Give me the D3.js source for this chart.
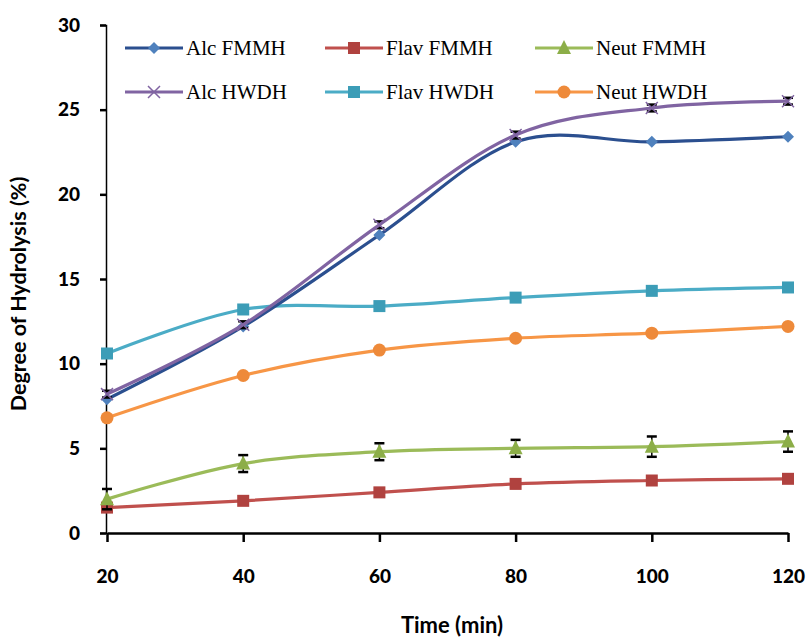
<!DOCTYPE html>
<html><head><meta charset="utf-8">
<script src="https://cdn.jsdelivr.net/npm/d3@7"></script>
<style>body{margin:0;background:#fff}svg{display:block}</style>
</head><body>
<svg id="c" width="811" height="640"></svg>
<script>
const times = [20, 40, 60, 80, 100, 120];
const xTicks = [20, 40, 60, 80, 100, 120];
const yTicks = [0, 5, 10, 15, 20, 25, 30];
const seriesNames = ["Alc FMMH", "Flav FMMH", "Neut FMMH", "Alc HWDH", "Flav HWDH", "Neut HWDH"];
const alcFMMH = [7.9, 12.2, 17.6, 23.1, 23.1, 23.4];
const flavFMMH = [1.5, 1.9, 2.4, 2.9, 3.1, 3.2];
const neutFMMH = [2.0, 4.1, 4.8, 5.0, 5.1, 5.4];
const alcHWDH = [8.2, 12.3, 18.2, 23.5, 25.1, 25.5];
const flavHWDH = [10.6, 13.2, 13.4, 13.9, 14.3, 14.5];
const neutHWDH = [6.8, 9.3, 10.8, 11.5, 11.8, 12.2];
const errFlavFMMH = [0.15, 0.15, 0.2, 0.2, 0.2, 0.2];
const errNeutFMMH = [0.6, 0.5, 0.5, 0.5, 0.6, 0.6];
const errAlcHWDH = [0.2, 0.2, 0.2, 0.2, 0.2, 0.2];

const series = [
  {name: seriesNames[0], values: alcFMMH, line: "#2B4F8F", fill: "#4F81BD", shape: "diamond", err: null},
  {name: seriesNames[1], values: flavFMMH, line: "#C0504D", fill: "#B0423F", shape: "square", err: errFlavFMMH},
  {name: seriesNames[2], values: neutFMMH, line: "#9BBB59", fill: "#8CAE48", shape: "triangle", err: errNeutFMMH},
  {name: seriesNames[3], values: alcHWDH, line: "#8064A2", fill: "#8064A2", shape: "x", err: errAlcHWDH},
  {name: seriesNames[4], values: flavHWDH, line: "#4BACC6", fill: "#3C9DB7", shape: "square", err: null},
  {name: seriesNames[5], values: neutHWDH, line: "#F79646", fill: "#EE8A3A", shape: "circle", err: null}
];

const svg = d3.select("#c");
const x = d3.scaleLinear().domain([20, 120]).range([107, 788]);
const y = d3.scaleLinear().domain([0, 30]).range([533, 25]);
const sansFont = "Lato, 'Open Sans', sans-serif";

// axes
const yAxis = svg.append("g").attr("transform", "translate(106,0)")
  .call(d3.axisLeft(y).tickValues(yTicks).tickSize(6).tickPadding(20).tickFormat(d3.format("d")));
yAxis.select(".domain").attr("stroke", "#000").attr("stroke-width", 1.5);
yAxis.selectAll(".tick line").attr("stroke", "#000").attr("stroke-width", 2.5);
yAxis.selectAll("text").attr("font-family", sansFont).attr("font-weight", 900)
  .attr("font-size", 19).attr("fill", "#000");

const xAxis = svg.append("g").attr("transform", "translate(0,533)")
  .call(d3.axisBottom(x).tickValues(xTicks).tickSize(9).tickSizeOuter(0).tickPadding(28).tickFormat(d3.format("d")));
xAxis.select(".domain").attr("stroke", "#000").attr("stroke-width", 2.5);
xAxis.selectAll(".tick line").attr("stroke", "#000").attr("stroke-width", 2.5);
xAxis.selectAll("text").attr("font-family", sansFont).attr("font-weight", 900)
  .attr("font-size", 19).attr("fill", "#000");

// titles
svg.append("text").attr("transform", "translate(26,294) rotate(-90)").attr("text-anchor", "middle")
  .attr("font-family", sansFont).attr("font-weight", "bold").attr("font-size", 21.5)
  .text("Degree of Hydrolysis (%)");
svg.append("text").attr("x", 452).attr("y", 633).attr("text-anchor", "middle")
  .attr("font-family", sansFont).attr("font-weight", "bold").attr("font-size", 22)
  .text("Time (min)");

function drawMarker(g, shape, cx, cy, fill, line) {
  if (shape === "diamond") {
    g.append("path").attr("d", `M${cx},${cy-6}L${cx+6},${cy}L${cx},${cy+6}L${cx-6},${cy}Z`).attr("fill", fill);
  } else if (shape === "square") {
    g.append("rect").attr("x", cx-6).attr("y", cy-6).attr("width", 12).attr("height", 12).attr("fill", fill);
  } else if (shape === "triangle") {
    g.append("path").attr("d", `M${cx},${cy-8}L${cx+7},${cy+6}L${cx-7},${cy+6}Z`).attr("fill", fill);
  } else if (shape === "circle") {
    g.append("circle").attr("cx", cx).attr("cy", cy).attr("r", 6.5).attr("fill", fill);
  } else if (shape === "x") {
    g.append("path").attr("d", `M${cx-6},${cy-6}L${cx+6},${cy+6}M${cx-6},${cy+6}L${cx+6},${cy-6}`)
      .attr("stroke", fill).attr("stroke-width", 1.5).attr("fill", "none");
  }
}

const lineGen = d3.line().x(d => x(d[0])).y(d => y(d[1])).curve(d3.curveCardinal.tension(0));
const order = [1, 2, 5, 4, 0, 3];
const plot = svg.append("g");
order.forEach(i => {
  const s = series[i];
  const g = plot.append("g");
  const pts = times.map((t, j) => [t, s.values[j]]);
  if (s.err) {
    pts.forEach((p, j) => {
      const e = s.err[j];
      g.append("line").attr("x1", x(p[0])).attr("x2", x(p[0])).attr("y1", y(p[1]-e)).attr("y2", y(p[1]+e))
        .attr("stroke", "#000").attr("stroke-width", 1.5);
      [p[1]-e, p[1]+e].forEach(v => g.append("line").attr("x1", x(p[0])-5).attr("x2", x(p[0])+5)
        .attr("y1", y(v)).attr("y2", y(v)).attr("stroke", "#000").attr("stroke-width", 2.5));
    });
  }
  g.append("path").datum(pts).attr("d", lineGen).attr("fill", "none").attr("stroke", s.line).attr("stroke-width", 3.2);
  pts.forEach(p => drawMarker(g, s.shape, x(p[0]), y(p[1]), s.fill, s.line));
});

// legend
const legX = [125, 325, 535];
const legY = [48, 92];
series.forEach((s, i) => {
  const lx = legX[i % 3], ly = legY[Math.floor(i / 3)];
  const g = svg.append("g");
  g.append("line").attr("x1", lx).attr("x2", lx + 58).attr("y1", ly).attr("y2", ly)
    .attr("stroke", s.line).attr("stroke-width", 3.2);
  drawMarker(g, s.shape, lx + 29, ly, s.fill, s.line);
  g.append("text").attr("x", lx + 61).attr("y", ly + 7).attr("font-family", "'Liberation Serif', 'Times New Roman', serif")
    .attr("font-size", 21).attr("fill", "#000").text(s.name);
});
</script>
</body></html>
